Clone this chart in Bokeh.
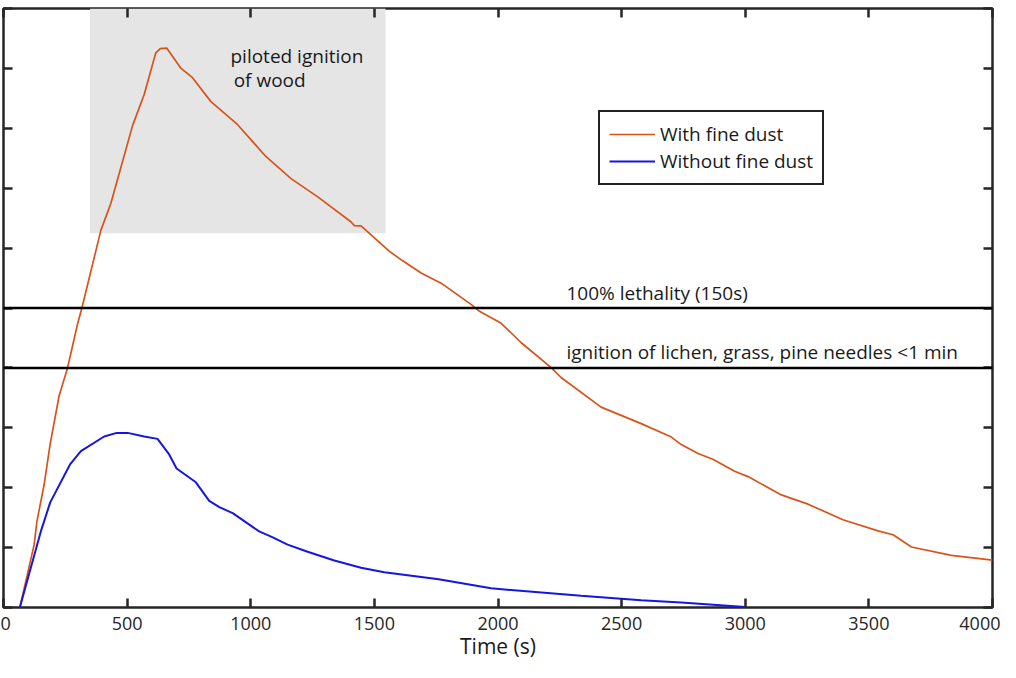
from bokeh.plotting import figure
from bokeh.models import (Span, BoxAnnotation, LinearAxis, FixedTicker, Legend,
                          LegendItem, Range1d, Label, CustomJSTickFormatter)
from bokeh.embed import file_html
from bokeh.resources import INLINE

# ---- data ----
with_dust_t = [66, 124, 135, 164, 189, 225, 259, 299, 317, 394, 434, 522, 569, 616,
               634, 660, 718, 762, 839, 947, 1061, 1163, 1271, 1405, 1419, 1446,
               1560, 1610, 1689, 1770, 1891, 1925, 2013, 2094, 2215, 2255, 2417,
               2579, 2701, 2741, 2809, 2869, 2957, 3011, 3146, 3254, 3395, 3537,
               3598, 3672, 3834, 4000]
with_dust_q = [0.0, 2.1, 2.87, 4.09, 5.47, 7.07, 8.0, 9.45, 10.0, 12.6, 13.49, 16.09,
               17.13, 18.52, 18.66, 18.68, 18.0, 17.71, 16.89, 16.12, 15.06, 14.32,
               13.71, 12.88, 12.75, 12.74, 11.9, 11.6, 11.17, 10.83, 10.12, 9.89,
               9.49, 8.84, 8.01, 7.68, 6.69, 6.14, 5.69, 5.44, 5.14, 4.95, 4.55,
               4.37, 3.76, 3.45, 2.93, 2.56, 2.43, 2.02, 1.74, 1.58]

without_dust_t = [66, 151, 189, 270, 313, 407, 458, 502, 569, 623, 670, 700, 778, 832,
                  873, 927, 1034, 1089, 1149, 1230, 1338, 1446, 1540, 1760, 1972,
                  2336, 2579, 2741, 3000]
without_dust_q = [0.0, 2.54, 3.51, 4.79, 5.22, 5.71, 5.83, 5.83, 5.71, 5.63, 5.11,
                  4.64, 4.18, 3.56, 3.35, 3.15, 2.54, 2.34, 2.10, 1.86, 1.57, 1.33,
                  1.18, 0.94, 0.64, 0.39, 0.24, 0.17, 0.02]

x_ticks = [0, 500, 1000, 1500, 2000, 2500, 3000, 3500, 4000]
y_ticks = [0, 2, 4, 6, 8, 10, 12, 14, 16, 18, 20]

lethality_level = 10
lichen_ignition_level = 8
wood_ignition_level = 12.5
wood_box_t = [350, 1545]

series_labels = ["With fine dust", "Without fine dust"]
x_title = "Time (s)"
FONT = "Open Sans"
DARK = "#262626"
TXT = "#1a1a1a"

p = figure(width=1000, height=662, x_range=Range1d(0, 4000), y_range=Range1d(0, 20),
           output_backend="svg", toolbar_location=None,
           min_border_left=3, min_border_top=8, min_border_right=8, min_border_bottom=0,
           background_fill_color="white", border_fill_color="white")
p.xgrid.visible = False
p.ygrid.visible = False
p.outline_line_color = DARK
p.outline_line_width = 2.5
p.outline_line_alpha = 1

blank = CustomJSTickFormatter(code="return ''")

# bottom axis
xa = p.xaxis[0]
xa.ticker = FixedTicker(ticks=x_ticks)
xa.major_tick_in = 9
xa.major_tick_out = 0
xa.minor_tick_in = 0
xa.minor_tick_out = 0
xa.major_tick_line_color = DARK
xa.major_tick_line_width = 2.5
xa.axis_line_color = None
xa.major_label_text_font = FONT
xa.major_label_text_font_size = "18px"
xa.major_label_text_color = DARK
xa.major_label_standoff = 9
xa.axis_label = x_title
xa.axis_label_text_font = FONT
xa.axis_label_text_font_size = "21px"
xa.axis_label_text_font_style = "normal"
xa.axis_label_text_color = TXT
xa.axis_label_standoff = -1

# left axis (ticks only)
ya = p.yaxis[0]
ya.ticker = FixedTicker(ticks=y_ticks)
ya.formatter = blank
ya.major_tick_in = 9
ya.major_tick_out = 0
ya.minor_tick_in = 0
ya.minor_tick_out = 0
ya.major_tick_line_color = DARK
ya.major_tick_line_width = 2.5
ya.axis_line_color = None
ya.major_label_text_font_size = "1px"
ya.major_label_standoff = 0

# top and right axes (ticks only)
top = LinearAxis(ticker=FixedTicker(ticks=x_ticks), formatter=blank,
                 major_tick_in=9, major_tick_out=0,
                 minor_tick_in=0, minor_tick_out=0, major_tick_line_color=DARK,
                 major_tick_line_width=2.5, axis_line_color=None,
                 major_label_text_font_size="1px", major_label_standoff=0)
right = LinearAxis(ticker=FixedTicker(ticks=y_ticks), formatter=blank,
                   major_tick_in=9, major_tick_out=0,
                   minor_tick_in=0, minor_tick_out=0, major_tick_line_color=DARK,
                   major_tick_line_width=2.5, axis_line_color=None,
                   major_label_text_font_size="1px", major_label_standoff=0)
p.add_layout(top, "above")
p.add_layout(right, "right")

# shaded region
box = BoxAnnotation(left=wood_box_t[0], right=wood_box_t[1], bottom=wood_ignition_level,
                    fill_color="#e5e5e5", fill_alpha=1, line_color=None, level="underlay")
p.add_layout(box)

# threshold lines
for lvl in (lethality_level, lichen_ignition_level):
    p.add_layout(Span(location=lvl, dimension="width", line_color="black", line_width=2.5))

r1 = p.line(with_dust_t, with_dust_q, line_color="#D95319", line_width=1.7)
r2 = p.line(without_dust_t, without_dust_q, line_color="#1616e0", line_width=2)

# texts
for x, y, t in [(918, 18.41, "piloted ignition"), (931, 17.62, "of wood"),
                (2277, 10.50, "100% lethality (150s)"),
                (2277, 8.54, "ignition of lichen, grass, pine needles <1 min")]:
    p.add_layout(Label(x=x, y=y, text=t, text_font=FONT, text_font_size="19px",
                       text_color=TXT, text_baseline="middle", text_align="left"))

legend = Legend(items=[LegendItem(label=series_labels[0], renderers=[r1]),
                       LegendItem(label=series_labels[1], renderers=[r2])],
                location=(595, 422), padding=9, spacing=1, label_height=26,
                glyph_height=26, glyph_width=46, label_standoff=5, margin=0,
                border_line_color="#222222", border_line_width=2.5,
                border_line_alpha=1,
                background_fill_color="white", background_fill_alpha=1,
                label_text_font=FONT, label_text_font_size="19px",
                label_text_color=TXT)
p.add_layout(legend, "center")

open("out.html", "w").write(file_html(p, INLINE))
